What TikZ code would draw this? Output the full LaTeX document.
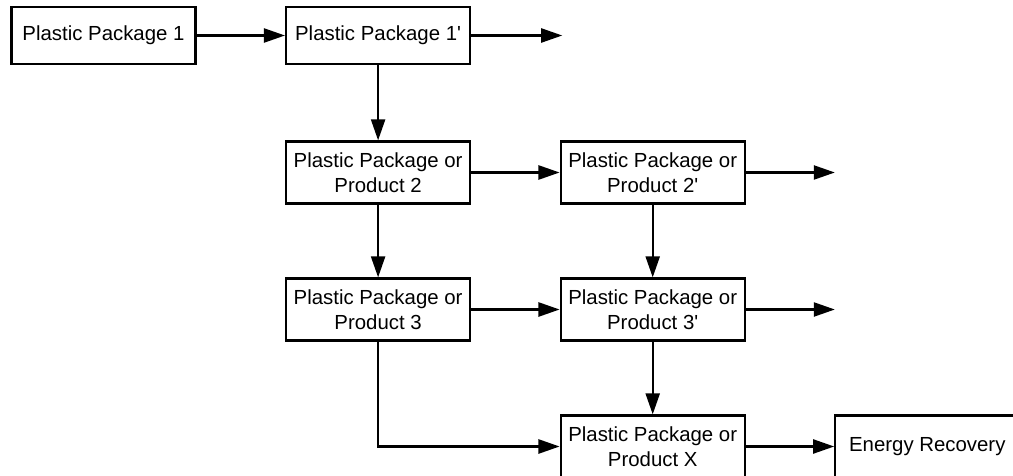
\documentclass[tikz,border=0pt]{standalone}
\usepackage{fontspec}
\setmainfont{Liberation Sans}
\usetikzlibrary{arrows.meta}
\tikzstyle{pbox} = [rectangle, minimum width=4.6cm, minimum height=1.55cm, text centered, align=center, draw=black, line width=1.6pt, font=\fontsize{14.5}{17.4}\selectfont]
\tikzstyle{pboxone} = [pbox, minimum height=1.43cm]
\tikzset{arw/.style={-{Triangle[length=15pt,width=10pt]},line width=1.6pt}}

\begin{document}
\begin{tikzpicture}[node distance=3.425cm]
			\useasboundingbox (0,0) rectangle (25.325,-11.9);
			\node (pp1) [pboxone] at (2.5875,-0.8875) {Plastic Package 1};
			\node (pp1b) [pboxone, right of = pp1, xshift = 3.44cm] {Plastic Package 1\textquotesingle};
			\node (pp2) [pbox, below of = pp1b] {Plastic Package or\\Product 2};
			\node (pp2b) [pbox, right of = pp2, xshift = 3.44cm] {Plastic Package or\\Product 2\textquotesingle};
			\node (pp3) [pbox, below of = pp2] {Plastic Package or\\Product 3};
			\node (pp3b) [pbox, right of = pp3, xshift = 3.44cm] {Plastic Package or\\Product 3\textquotesingle};
			\node (ppx) [pbox, below of = pp3b] {Plastic Package or\\Product X};
			\node (energy) [pbox, right of = ppx, xshift = 3.44cm] {Energy Recovery};
			\coordinate (out1) at ([xshift=2.275cm]pp1b.east);
			\coordinate (out2) at ([xshift=2.225cm]pp2b.east);
			\coordinate (out3) at ([xshift=2.225cm]pp3b.east);
			
			\draw [arw] (pp1) -- (pp1b);
			\draw [arw] (pp1b) -- (out1);
			\draw [arw] (pp1b) -- (pp2);
			\draw [arw] (pp2) -- (pp2b);
			\draw [arw] (pp2b) -- (out2);
			\draw [arw] (pp2) -- (pp3);
			\draw [arw] (pp2b) -- (pp3b);
			\draw [arw] (pp3) -- (pp3b);
			\draw [arw] (pp3b) -- (out3);
			\draw [arw] (pp3b) -- (ppx);
			\draw [arw] (pp3) |- (ppx);
			\draw [arw] (ppx) -- (energy);
			
\end{tikzpicture}
\end{document}
